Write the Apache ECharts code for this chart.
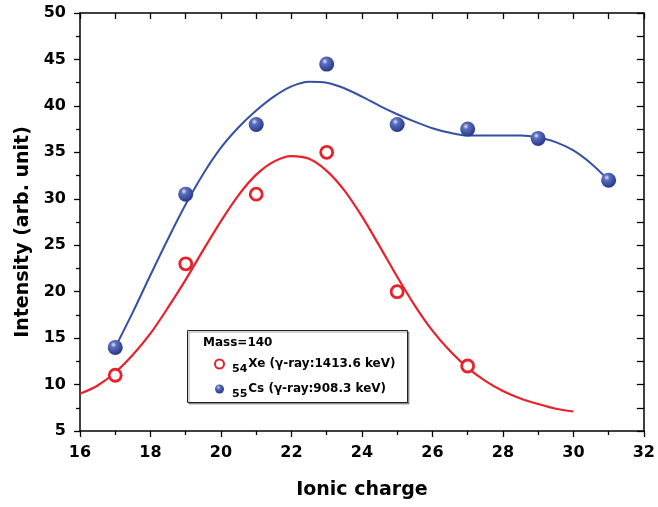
<!DOCTYPE html>
<html>
<head>
<meta charset="utf-8">
<script src="https://cdn.jsdelivr.net/npm/echarts@6/dist/echarts.min.js"></script>
<style>
  html, body { margin: 0; padding: 0; background: #fff; }
  #chart { width: 658px; height: 507px; }
</style>
</head>
<body>
<div id="chart"></div>
<script>
// Measured points (ionic charge vs. intensity)
const xeCharge = [17, 19, 21, 23, 25, 27];
const xeValue  = [11, 23, 30.5, 35, 20, 12];
const csCharge = [17, 19, 21, 23, 25, 27, 29, 31];
const csValue  = [14, 30.5, 38, 44.5, 38, 37.5, 36.5, 32];

// Fitted curves
const xeFitX = [16, 16.5, 17, 17.5, 18, 18.5, 19, 19.5, 20, 20.5, 21, 21.5, 22, 22.5, 23, 23.5,
                24, 24.5, 25, 25.5, 26, 26.5, 27, 27.5, 28, 28.5, 29, 29.5, 30];
const xeFitY = [9.0, 9.9, 11.3, 13.2, 15.5, 18.3, 21.3, 24.5, 27.6, 30.4, 32.6, 34.0, 34.6, 34.3, 33.0, 30.9,
                28.1, 24.9, 21.6, 18.5, 15.8, 13.6, 11.8, 10.4, 9.3, 8.5, 7.9, 7.4, 7.1];
const csFitX = [17, 17.5, 18, 18.5, 19, 19.5, 20, 20.5, 21, 21.5, 22, 22.5, 23, 23.5, 24, 24.5,
                25, 25.5, 26, 26.5, 27, 27.5, 28, 28.5, 29, 29.5, 30, 30.5, 31];
const csFitY = [14.0, 17.8, 21.8, 25.7, 29.4, 32.7, 35.5, 37.7, 39.5, 41.0, 42.1, 42.6, 42.5, 41.9, 41.0, 40.0,
                39.1, 38.3, 37.6, 37.1, 36.8, 36.8, 36.8, 36.8, 36.6, 36.1, 35.2, 33.8, 32.0];

const xTicks = { min: 16, max: 32, step: 2 };
const yTicks = { min: 5, max: 50, step: 5 };

const XE_NAME = 'Xe';
const CS_NAME = 'Cs';
const legendText = {
  [XE_NAME]: '{s|54}{t|Xe (γ-ray:1413.6 keV)}',
  [CS_NAME]: '{s|55}{t|Cs (γ-ray:908.3 keV)}',
};

const zip = (xs, ys) => xs.map((x, i) => [x, ys[i]]);

const FONT = 'DejaVu Sans';
const RED = '#e8212a';
const BLUE = '#3450a2';

const sphere = {
  type: 'radial', x: 0.38, y: 0.32, r: 0.68,
  colorStops: [
    { offset: 0, color: '#e4e7f6' },
    { offset: 0.28, color: '#5b6ec0' },
    { offset: 1, color: '#27388a' },
  ],
};

const tickLine = { color: '#000', width: 1.3 };

function axisBase(extra) {
  return Object.assign({
    type: 'value',
    axisLine: { show: true, onZero: false, lineStyle: { color: '#000', width: 1.5 } },
    axisTick: { show: true, length: 6, lineStyle: tickLine },
    minorTick: { show: true, splitNumber: 2, length: 4, lineStyle: tickLine },
    splitLine: { show: false },
  }, extra);
}

const chart = echarts.init(document.getElementById('chart'));

chart.setOption({
  animation: false,
  backgroundColor: '#fff',
  grid: { left: 80, right: 11, top: 13, bottom: 76 },
  xAxis: [
    axisBase({
      position: 'bottom',
      min: xTicks.min, max: xTicks.max, interval: xTicks.step,
      name: 'Ionic charge',
      nameLocation: 'middle',
      nameGap: 50,
      nameTextStyle: { fontFamily: FONT, fontWeight: 'bold', fontSize: 19, color: '#000' },
      axisLabel: { margin: 14, fontFamily: FONT, fontWeight: 'bold', fontSize: 16, color: '#000' },
    }),
    axisBase({
      position: 'top',
      min: xTicks.min, max: xTicks.max, interval: xTicks.step,
      axisTick: { show: true, inside: true, length: 6, lineStyle: tickLine },
      minorTick: { show: true, splitNumber: 2, length: 6, lineStyle: tickLine },
      axisLabel: { show: false },
    }),
  ],
  yAxis: [
    axisBase({
      position: 'left',
      min: yTicks.min, max: yTicks.max, interval: yTicks.step,
      name: 'Intensity (arb. unit)',
      nameLocation: 'middle',
      nameGap: 47,
      nameTextStyle: { fontFamily: FONT, fontWeight: 'bold', fontSize: 19, color: '#000', padding: [0, 20, 0, 0] },
      axisLabel: { margin: 14, fontFamily: FONT, fontWeight: 'bold', fontSize: 16, color: '#000' },
    }),
    axisBase({
      position: 'right',
      min: yTicks.min, max: yTicks.max, interval: yTicks.step,
      axisTick: { show: true, inside: true, length: 7, lineStyle: tickLine },
      minorTick: { show: true, splitNumber: 2, length: 7, lineStyle: tickLine },
      axisLabel: { show: false },
    }),
  ],
  legend: {
    data: [XE_NAME, CS_NAME],
    orient: 'vertical',
    left: 209,
    top: 353,
    itemWidth: 9,
    itemHeight: 9,
    itemGap: 8,
    formatter: name => legendText[name],
    textStyle: {
      fontFamily: FONT, fontWeight: 'bold', color: '#000',
      rich: {
        s: { fontFamily: FONT, fontWeight: 'bold', fontSize: 11, lineHeight: 12, padding: [6, 1, 0, 3], verticalAlign: 'top', color: '#000' },
        t: { fontFamily: FONT, fontWeight: 'bold', fontSize: 12, lineHeight: 12, verticalAlign: 'top', color: '#000' },
      },
    },
  },
  graphic: [
    {
      type: 'rect', z: 0,
      shape: { x: 187.5, y: 330.5, width: 220, height: 72 },
      style: { fill: '#fff', stroke: '#222', lineWidth: 1, shadowColor: 'rgba(0,0,0,0.35)', shadowOffsetX: 1.5, shadowOffsetY: 1.5 },
    },
    {
      type: 'text', z: 1, left: 203, top: 337,
      style: { text: 'Mass=140', fontFamily: FONT, fontWeight: 'bold', fontSize: 12, fill: '#000' },
    },
  ],
  series: [
    {
      type: 'line', name: 'Xe fit', data: zip(xeFitX, xeFitY),
      smooth: 0.3, showSymbol: false, silent: true, z: 2,
      lineStyle: { color: RED, width: 2.2 },
    },
    {
      type: 'line', name: 'Cs fit', data: zip(csFitX, csFitY),
      smooth: 0.3, showSymbol: false, silent: true, z: 2,
      lineStyle: { color: BLUE, width: 2 },
    },
    {
      type: 'scatter', name: XE_NAME, data: zip(xeCharge, xeValue),
      symbol: 'circle', symbolSize: 12, z: 3,
      itemStyle: { color: '#fff', borderColor: RED, borderWidth: 2.8, opacity: 1 },
    },
    {
      type: 'scatter', name: CS_NAME, data: zip(csCharge, csValue),
      symbol: 'circle', symbolSize: 15, z: 3,
      itemStyle: { color: sphere, opacity: 1 },
    },
  ],
});
</script>
</body>
</html>
